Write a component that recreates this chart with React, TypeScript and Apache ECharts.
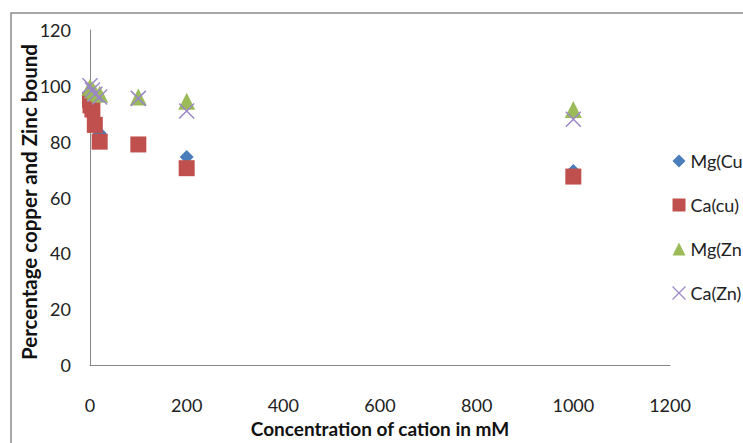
import React, { useEffect, useRef } from "react";
import * as echarts from "echarts";

const seriesNames = ["Mg(Cu", "Ca(cu)", "Mg(Zn", "Ca(Zn)"];
const mgCu: [number, number][] = [[0, 95], [1, 94], [5, 92], [10, 88], [20, 83], [100, 79], [200, 74.5], [1000, 69.5]];
const caCu: [number, number][] = [[0, 95], [1, 93], [5, 91.5], [10, 86], [20, 80], [100, 79], [200, 70.5], [1000, 67.5]];
const mgZn: [number, number][] = [[0, 99.5], [5, 98.5], [10, 97.5], [20, 97], [100, 96], [200, 94.5], [1000, 91.5]];
const caZn: [number, number][] = [[0, 100], [5, 98.5], [10, 97], [20, 96], [100, 95.5], [200, 91], [1000, 88]];
const xTicks = [0, 200, 400, 600, 800, 1000, 1200];
const yTicks = [0, 20, 40, 60, 80, 100, 120];
const yTitle = "Percentage copper and Zinc bound";

const FONT = "Lato, 'Liberation Sans', sans-serif";
const CROSS = "path://M0,0L10,10M10,0L0,10";

export default function App() {
  const ref = useRef<HTMLDivElement>(null);
  useEffect(() => {
    const chart = echarts.init(ref.current!, null, { renderer: "svg" });
    const axisLine = { show: true, lineStyle: { color: "#868686", width: 1 } };
    chart.setOption({
      animation: false,
      backgroundColor: "#ffffff",
      textStyle: { fontFamily: FONT },
      graphic: [
        {
          type: "rect",
          shape: { x: 11, y: 13, width: 800, height: 500 },
          style: { fill: "none", stroke: "#8c8c8c", lineWidth: 1.5 },
          silent: true,
          z: -1,
        },
        {
          type: "text",
          x: 29,
          y: 202,
          rotation: Math.PI / 2,
          style: {
            text: yTitle,
            font: `bold 20.5px ${FONT}`,
            fill: "#111",
            align: "center",
            verticalAlign: "middle",
          },
          silent: true,
        },
      ],
      grid: { left: 90, top: 30, right: 73, bottom: 73, containLabel: false },
      xAxis: {
        type: "value",
        min: xTicks[0],
        max: xTicks[xTicks.length - 1],
        interval: 200,
        axisLine,
        axisTick: { show: false },
        splitLine: { show: false },
        axisLabel: { color: "#222", fontSize: 18, fontFamily: FONT, margin: 31, formatter: (v: number) => String(v) },
        name: "Concentration of cation in mM",
        nameLocation: "middle",
        nameGap: 54,
        nameTextStyle: { fontWeight: "bold", fontSize: 19, color: "#111", fontFamily: FONT },
      },
      yAxis: {
        type: "value",
        min: yTicks[0],
        max: yTicks[yTicks.length - 1],
        interval: 20,
        axisLine,
        axisTick: { show: false },
        splitLine: { show: false },
        axisLabel: { color: "#222", fontSize: 18, fontFamily: FONT, margin: 19 },
      },
      legend: {
        orient: "vertical",
        left: 670,
        top: 152,
        padding: 0,
        itemGap: 26,
        itemWidth: 13,
        itemHeight: 13,
        textStyle: { fontSize: 18, color: "#222", fontFamily: FONT },
        data: [
          { name: seriesNames[0], icon: "diamond" },
          { name: seriesNames[1], icon: "rect" },
          { name: seriesNames[2], icon: "triangle" },
          { name: seriesNames[3], icon: CROSS, itemStyle: { color: "none", borderColor: "#9b87c6", borderWidth: 1.2 } },
        ],
      },
      series: [
        {
          name: seriesNames[0],
          type: "scatter",
          data: mgCu,
          symbol: "diamond",
          symbolSize: 14,
          itemStyle: { color: "#4a7ebb", opacity: 1 },
        },
        {
          name: seriesNames[1],
          type: "scatter",
          data: caCu,
          symbol: "rect",
          symbolSize: 16,
          itemStyle: { color: "#c0504d", opacity: 1 },
        },
        {
          name: seriesNames[2],
          type: "scatter",
          data: mgZn,
          symbol: "triangle",
          symbolSize: 17,
          itemStyle: { color: "#9bbb59", opacity: 1 },
        },
        {
          name: seriesNames[3],
          type: "scatter",
          data: caZn,
          symbol: CROSS,
          symbolSize: 15,
          itemStyle: { color: "none", borderColor: "#9b87c6", borderWidth: 1.5, opacity: 1 },
        },
      ],
    });
    return () => chart.dispose();
  }, []);
  return (
    <div
      ref={ref}
      style={{ position: "fixed", left: 0, top: 0, width: 743, height: 443, background: "#fff" }}
    />
  );
}
